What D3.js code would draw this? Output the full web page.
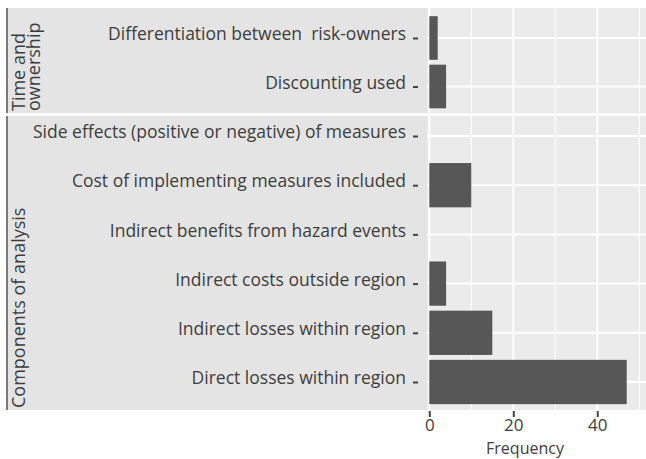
<!DOCTYPE html>
<html><head><meta charset="utf-8">
<script src="https://cdn.jsdelivr.net/npm/d3@7"></script>
<style>body{margin:0;background:#fff}svg{display:block}</style>
</head><body>
<script>
// ---- data ----
const groups = ["Time and ownership", "Components of analysis"];
const topCategories = ["Differentiation between  risk-owners", "Discounting used"];
const topValues = [2, 4];
const bottomCategories = [
  "Side effects (positive or negative) of measures",
  "Cost of implementing measures included",
  "Indirect benefits from hazard events",
  "Indirect costs outside region",
  "Indirect losses within region",
  "Direct losses within region"
];
const bottomValues = [0, 10, 0, 4, 15, 47];
const xTicks = [0, 20, 40];
const xMinor = [10, 30, 50];
const xLabel = "Frequency";

// ---- layout ----
const W = 646, H = 459;
const font = "'Open Sans', 'Noto Sans', sans-serif";
const textColor = "#3d3d3d";
const panelLeft = 427, panelRight = 646;
const stripLeft = 6;
const panels = [
  {name: groups[0], cats: topCategories, vals: topValues, y0: 8, y1: 113, c0: 38, c1: 86.5, strip: ["Time and", "ownership"]},
  {name: groups[1], cats: bottomCategories, vals: bottomValues, y0: 116, y1: 410, c0: 136, c1: 382, strip: ["Components of analysis"]}
];

const svg = d3.select("body").append("svg").attr("width", W).attr("height", H);
const x = d3.scaleLinear().domain([0, 50]).range([429.3, 639.3]);

panels.forEach(p => {
  const y = d3.scalePoint().domain(p.cats).range([p.c0, p.c1]);
  const bh = y.step() * 0.9;
  // label / strip area
  svg.append("rect").attr("x", stripLeft).attr("y", p.y0).attr("width", panelLeft - stripLeft).attr("height", p.y1 - p.y0).attr("fill", "#e4e4e4");
  svg.append("line").attr("x1", stripLeft + 1).attr("x2", stripLeft + 1).attr("y1", p.y0).attr("y2", p.y1).attr("stroke", "#7a7a7a").attr("stroke-width", 2);
  // panel
  svg.append("rect").attr("x", panelLeft).attr("y", p.y0).attr("width", panelRight - panelLeft).attr("height", p.y1 - p.y0).attr("fill", "#ebebeb");
  const g = svg.append("g");
  g.selectAll(".minor").data(xMinor).join("line")
    .attr("x1", d => x(d)).attr("x2", d => x(d)).attr("y1", p.y0).attr("y2", p.y1)
    .attr("stroke", "#fff").attr("stroke-width", 1);
  g.selectAll(".major").data(xTicks).join("line")
    .attr("x1", d => x(d)).attr("x2", d => x(d)).attr("y1", p.y0).attr("y2", p.y1)
    .attr("stroke", "#fff").attr("stroke-width", 2);
  g.selectAll(".hgrid").data(p.cats).join("line")
    .attr("x1", panelLeft).attr("x2", panelRight).attr("y1", d => y(d)).attr("y2", d => y(d))
    .attr("stroke", "#fff").attr("stroke-width", 2);
  // bars
  g.selectAll(".bar").data(p.cats.map((c, i) => ({c, v: p.vals[i]})).filter(d => d.v > 0)).join("rect")
    .attr("x", x(0)).attr("y", d => y(d.c) - bh / 2)
    .attr("width", d => x(d.v) - x(0)).attr("height", bh)
    .attr("fill", "#575757");
  // category labels and ticks
  const yAxis = d3.axisLeft(y).tickSize(5).tickPadding(7);
  const ag = svg.append("g").attr("transform", `translate(418,0)`).call(yAxis);
  ag.select(".domain").remove();
  ag.selectAll(".tick line").attr("stroke", "#444").attr("stroke-width", 2);
  ag.selectAll(".tick text").attr("font-family", font).attr("font-size", 17.5).attr("fill", textColor)
    .attr("dy", "0.1em").style("white-space", "pre");
  // strip text
  const st = svg.append("text").attr("font-family", font).attr("font-size", 18).attr("fill", textColor)
    .attr("transform", `translate(0,${p.y1 - 2}) rotate(-90)`).attr("text-anchor", "start");
  p.strip.forEach((line, i) => {
    st.append("tspan").attr("x", 0).attr("y", 25 + i * 15).text(line);
  });
});

// x axis
const xa = svg.append("g").attr("transform", "translate(0,411)")
  .call(d3.axisBottom(x).tickValues(xTicks).tickSize(6).tickPadding(2).tickFormat(d3.format("d")));
xa.select(".domain").remove();
xa.selectAll(".tick line").attr("stroke", "#444").attr("stroke-width", 2);
xa.selectAll(".tick text").attr("font-family", font).attr("font-size", 17).attr("fill", textColor);
svg.append("text").attr("x", 525).attr("y", 454).attr("text-anchor", "middle")
  .attr("font-family", font).attr("font-size", 16).attr("fill", textColor).text(xLabel);
</script>
</body></html>
